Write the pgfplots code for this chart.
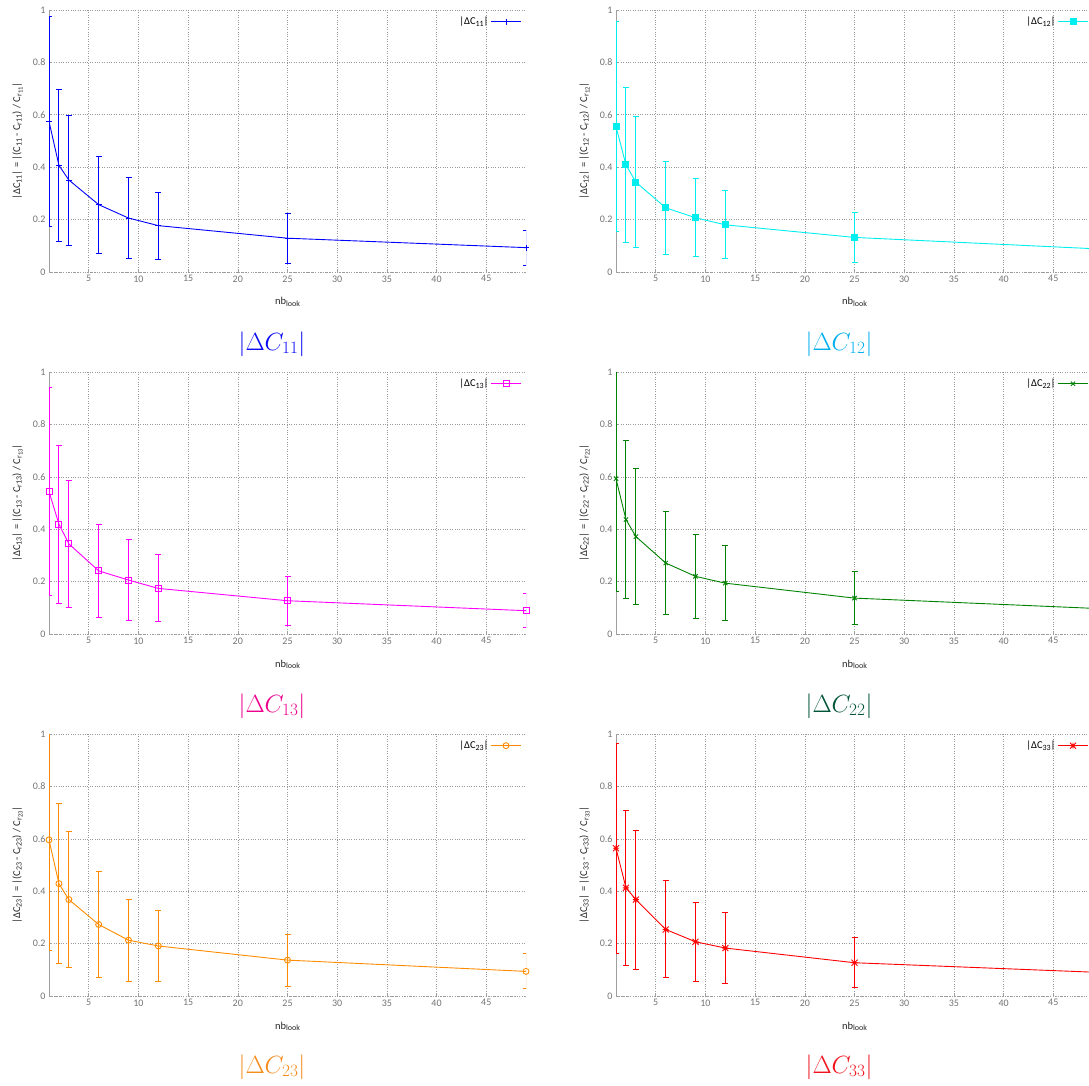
\documentclass[border=0pt]{standalone}
\usepackage{pgfplots}
\pgfplotsset{compat=1.18}
\usepackage{fontspec}
\newfontfamily\gpfont{Carlito}

\definecolor{c11}{RGB}{0,0,255}
\definecolor{c12}{RGB}{0,238,238}
\definecolor{c13}{RGB}{255,0,255}
\definecolor{c22}{RGB}{0,130,0}
\definecolor{c23}{RGB}{255,140,0}
\definecolor{c33}{RGB}{255,0,0}
\definecolor{t11}{RGB}{10,10,245}
\definecolor{t12}{RGB}{0,174,239}
\definecolor{t13}{RGB}{236,0,140}
\definecolor{t22}{RGB}{0,85,55}
\definecolor{t23}{RGB}{245,140,30}
\definecolor{t33}{RGB}{240,20,30}

\pgfdeclareplotmark{gpstar}{%
  \pgfpathmoveto{\pgfqpoint{-\pgfplotmarksize}{0pt}}\pgfpathlineto{\pgfqpoint{\pgfplotmarksize}{0pt}}%
  \pgfpathmoveto{\pgfqpoint{0pt}{-\pgfplotmarksize}}\pgfpathlineto{\pgfqpoint{0pt}{\pgfplotmarksize}}%
  \pgfpathmoveto{\pgfqpoint{-\pgfplotmarksize}{-\pgfplotmarksize}}\pgfpathlineto{\pgfqpoint{\pgfplotmarksize}{\pgfplotmarksize}}%
  \pgfpathmoveto{\pgfqpoint{-\pgfplotmarksize}{\pgfplotmarksize}}\pgfpathlineto{\pgfqpoint{\pgfplotmarksize}{-\pgfplotmarksize}}%
  \pgfusepathqstroke}

\pgfplotstableread{
x y e
1 0.575 0.402
2 0.407 0.291
3 0.351 0.248
6 0.257 0.185
9 0.206 0.156
12 0.177 0.128
25 0.129 0.096
49 0.093 0.067
}\tCa
\pgfplotstableread{
x y e
1 0.555 0.400
2 0.409 0.297
3 0.343 0.249
6 0.245 0.178
9 0.207 0.149
12 0.180 0.130
25 0.132 0.096
49 0.089 0.065
}\tCb
\pgfplotstableread{
x y e
1 0.544 0.397
2 0.419 0.302
3 0.344 0.241
6 0.241 0.177
9 0.206 0.153
12 0.174 0.128
25 0.127 0.094
49 0.089 0.066
}\tCc
\pgfplotstableread{
x y e
1 0.593 0.430
2 0.437 0.303
3 0.372 0.261
6 0.271 0.195
9 0.220 0.160
12 0.194 0.144
25 0.137 0.102
49 0.098 0.072
}\tCd
\pgfplotstableread{
x y e
1 0.596 0.424
2 0.429 0.306
3 0.368 0.260
6 0.273 0.201
9 0.213 0.157
12 0.191 0.137
25 0.137 0.099
49 0.094 0.067
}\tCe
\pgfplotstableread{
x y e
1 0.564 0.400
2 0.413 0.295
3 0.368 0.265
6 0.254 0.185
9 0.207 0.151
12 0.183 0.135
25 0.127 0.096
49 0.091 0.068
}\tCf

\newcommand{\gpf}{\gpfont\fontsize{10.5}{12}\selectfont}
\newcommand{\gpt}{\gpfont\fontsize{10}{12}\selectfont}
\newcommand{\sub}[1]{\raisebox{-0.3ex}{\fontsize{8}{9}\selectfont #1}}
\newcommand{\subb}[1]{\raisebox{-0.3ex}{\fontsize{6.5}{7}\selectfont #1}}
\newcommand{\ylab}[1]{|ΔC\sub{#1}| = |(C\sub{#1} - C\sub{r#1}) / C\sub{r\subb{#1}}|}
\newcommand{\leg}[1]{|ΔC\sub{#1}|}

\pgfplotsset{gp/.style={
  scale only axis, width=477pt, height=262pt, anchor=south west,
  xmin=1, xmax=49, ymin=0, ymax=1,
  xtick={5,10,15,20,25,30,35,40,45}, ytick={0,0.2,0.4,0.6,0.8,1},
  grid=major, major grid style={dotted, gray!80, line width=0.6pt},
  axis lines*=left, axis line style={-, gray!75, line width=0.8pt},
  x axis line style={dotted},
  tick style={gray!75, line width=0.6pt}, major tick length=3pt, tick align=inside,
  ticklabel style={font=\gpt, text=gray!90!black},
  /pgf/number format/assume math mode=true,
  yticklabel style={/pgf/number format/fixed},
  xlabel={nb\sub{look}},
  every axis x label/.style={at={(axis description cs:0.5,-0.115)}, anchor=center, font=\gpf, text=black!85},
  every axis y label/.style={at={(axis description cs:-0.066,0.5)}, rotate=90, anchor=center, font=\gpf, text=black!85},
  legend style={at={(axis description cs:0.993,0.985)}, anchor=north east, draw=none, fill=none, font=\gpf, inner sep=1pt},
  legend cell align=right, legend plot pos=right,
  legend image code/.code={\draw[mark repeat=2,mark phase=2,##1] plot coordinates {(0pt,0pt) (15pt,0pt) (30pt,0pt)};},
  clip mode=individual,
  every axis plot/.append style={line width=0.9pt, mark size=3pt},
}}
\pgfplotsset{eb/.style={
  error bars/.cd, y dir=both, y explicit,
  error bar style={line width=1pt, solid, draw=#1},
  error mark options={rotate=90, mark size=3pt, line width=1pt, solid, draw=#1},
}}

\begin{document}
\begin{tikzpicture}
\useasboundingbox (0pt,0pt) rectangle (1089pt,-1086pt);

% Row 1
\begin{axis}[gp, at={(49pt,-272pt)}, ylabel={\ylab{11}}]
\addplot[c11, mark=+, eb=c11] table[x=x, y=y, y error=e] {\tCa};
\addlegendentry{\leg{11}}
\end{axis}
\begin{axis}[gp, at={(616pt,-272pt)}, ylabel={\ylab{12}}]
\addplot[c12, mark=square*, mark options={fill=c12}, eb=c12] table[x=x, y=y, y error=e] {\tCb};
\addlegendentry{\leg{12}}
\end{axis}

% Row 2
\begin{axis}[gp, at={(49pt,-634pt)}, ylabel={\ylab{13}}]
\addplot[c13, mark=square, eb=c13] table[x=x, y=y, y error=e] {\tCc};
\addlegendentry{\leg{13}}
\end{axis}
\begin{axis}[gp, at={(616pt,-634pt)}, ylabel={\ylab{22}}]
\addplot[c22, mark=x, eb=c22] table[x=x, y=y, y error=e] {\tCd};
\addlegendentry{\leg{22}}
\end{axis}

% Row 3
\begin{axis}[gp, at={(49pt,-996pt)}, ylabel={\ylab{23}}]
\addplot[c23, mark=o, eb=c23] table[x=x, y=y, y error=e] {\tCe};
\addlegendentry{\leg{23}}
\end{axis}
\begin{axis}[gp, at={(616pt,-996pt)}, ylabel={\ylab{33}}]
\addplot[c33, mark=gpstar, eb=c33] table[x=x, y=y, y error=e] {\tCf};
\addlegendentry{\leg{33}}
\end{axis}

% Sub-captions
\node[font=\fontsize{24}{28}\selectfont, text=t11] at (272pt,-344pt) {$|\Delta C_{11}|$};
\node[font=\fontsize{24}{28}\selectfont, text=t12] at (839pt,-344pt) {$|\Delta C_{12}|$};
\node[font=\fontsize{24}{28}\selectfont, text=t13] at (272pt,-706pt) {$|\Delta C_{13}|$};
\node[font=\fontsize{24}{28}\selectfont, text=t22] at (839pt,-706pt) {$|\Delta C_{22}|$};
\node[font=\fontsize{24}{28}\selectfont, text=t23] at (272pt,-1067pt) {$|\Delta C_{23}|$};
\node[font=\fontsize{24}{28}\selectfont, text=t33] at (839pt,-1067pt) {$|\Delta C_{33}|$};
\end{tikzpicture}
\end{document}
